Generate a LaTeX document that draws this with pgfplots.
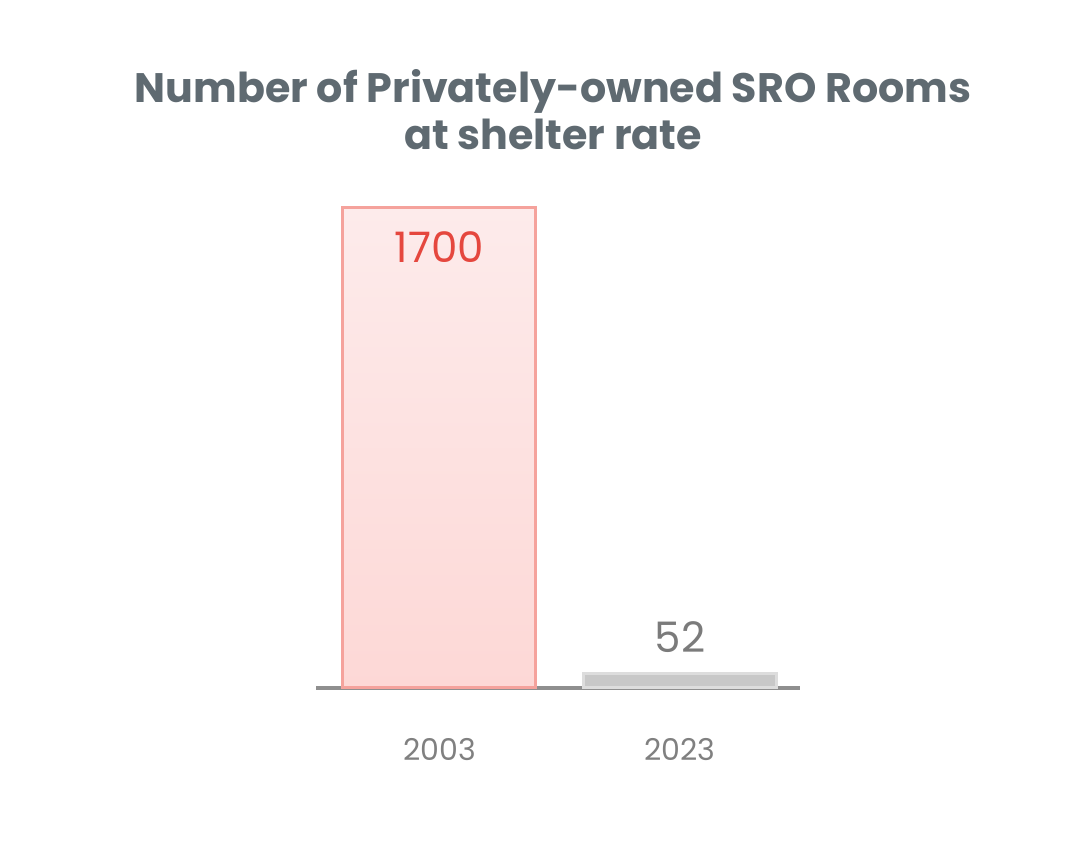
\documentclass[border=0pt]{standalone}
\usepackage{fontspec}
\setmainfont{Poppins}
\usepackage{pgfplots}
\pgfplotsset{compat=1.18}
\definecolor{titlec}{HTML}{5F6A71}
\definecolor{barA}{HTML}{F5A29C}
\definecolor{barAtop}{HTML}{FDEBEB}
\definecolor{barAbot}{HTML}{FDD8D6}
\definecolor{labA}{HTML}{E5473E}
\definecolor{barB}{HTML}{C8C8C8}
\definecolor{barBedge}{HTML}{DDDDDD}
\definecolor{labB}{HTML}{7B7B7B}
\definecolor{axisc}{HTML}{8F8F8F}
\definecolor{tickc}{HTML}{808080}
\begin{document}
\begin{tikzpicture}
\path[use as bounding box] (0,0) rectangle (544.5pt,432.5pt);
\node[align=center, font=\bfseries\fontsize{20.6}{23.5}\selectfont, text=titlec] at (276.5pt,377.5pt) {Number of Privately-owned SRO Rooms\\at shelter rate};
\begin{axis}[
  at={(158pt,88.5pt)}, anchor=south west,
  scale only axis, width=242pt, height=240pt,
  xmin=-0.5135, xmax=1.499, ymin=0, ymax=1700,
  clip=false,
  axis x line=bottom, axis y line=none,
  x axis line style={draw=axisc, line width=2pt, -},
  xtick={0,1}, xticklabels={2003,2023},
  major tick length=0pt,
  /pgf/number format/assume math mode=true,
  xticklabel style={font=\fontsize{15}{18}\selectfont, text=tickc, anchor=north, inner sep=0pt, yshift=-25pt},
]
\addplot[ybar, bar width=96.5pt, bar shift=0pt, draw=barA, line width=1.5pt,
  top color=barAtop, bottom color=barAbot,
  nodes near coords={1700},
  nodes near coords style={anchor=north, inner sep=0pt, yshift=-11pt, text=labA, font=\fontsize{21}{24}\selectfont}]
  coordinates {(0,1700)};
\addplot[ybar, bar width=96.5pt, bar shift=0pt, draw=barBedge, line width=1.5pt, fill=barB,
  nodes near coords={52},
  nodes near coords style={anchor=south, inner sep=0pt, yshift=9.5pt, text=labB, font=\fontsize{21}{24}\selectfont}]
  coordinates {(1,52)};
\end{axis}
\end{tikzpicture}
\end{document}
